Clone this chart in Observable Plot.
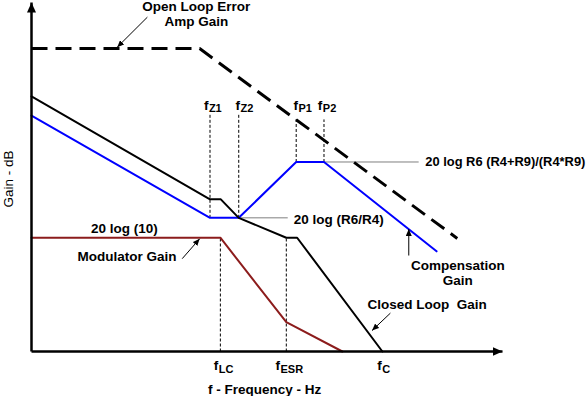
<!DOCTYPE html>
<html>
<head>
<meta charset="utf-8">
<script src="https://cdn.jsdelivr.net/npm/d3@7"></script>
<script src="https://cdn.jsdelivr.net/npm/@observablehq/plot@0.6"></script>
<style>
  html, body { margin: 0; padding: 0; background: #fff; }
  svg text { white-space: pre; }
</style>
</head>
<body>
<div id="chart"></div>
<script>
// ---- Data (x: log-frequency units 0-100, y: gain units 0-100) ----
const openLoopX = [0, 35.7, 90.4];
const openLoopY = [86.8, 86.8, 32.4];

const closedLoopX = [0, 37.9, 40.2, 44.0, 54.1, 56.4, 74.5];
const closedLoopY = [73.1, 43.6, 43.6, 38.3, 32.6, 32.6, 0];

const compX = [0, 37.9, 44.0, 56.2, 62.1, 86.0];
const compY = [67.6, 38.3, 38.3, 54.3, 54.3, 28.7];

const modX = [0, 40.1, 54.1, 66.0];
const modY = [32.6, 32.6, 8.4, 0];

// dashed frequency markers
const markerX  = [37.9, 44.0, 56.2, 62.1, 40.1, 54.1];
const markerY1 = [38.3, 38.3, 54.3, 54.3, 0, 0];
const markerY2 = [67.9, 67.9, 67.0, 66.5, 32.6, 32.6];

// frequency labels f + subscript
const freqSubs   = ["Z1", "Z2", "P1", "P2", "LC", "ESR", "C"];
const freqLabelX = [36.6, 43.3, 55.6, 60.8, 38.7, 51.8, 73.4];
const freqLabelY = [70.5, 70.5, 70.5, 70.5, -4.2, -4.2, -4.2];

// grey leader lines
const leaderX1 = [62.1, 44.0];
const leaderX2 = [82.2, 54.4];
const leaderY  = [54.3, 38.3];

// annotation arrows
const arrowX1 = [24.6, 32.0, 80.1, 76.2];
const arrowY1 = [95.8, 26.6, 27.5, 11.0];
const arrowX2 = [18.2, 35.7, 80.1, 72.3];
const arrowY2 = [87.2, 32.3, 35.1, 6.0];

// annotation texts
const noteText   = ["Open Loop Error", "Amp Gain", "20 log R6 (R4+R9)/(R4*R9)", "20 log (R6/R4)", "20 log (10)", "Modulator Gain", "Compensation", "Gain", "Closed Loop  Gain"];
const noteX      = [35.0, 35.0, 83.6, 55.7, 19.7, 20.3, 90.5, 90.5, 84.0];
const noteY      = [98.9, 94.5, 54.4, 37.9, 35.3, 27.2, 24.6, 20.3, 13.4];
const noteAnchor = ["middle", "middle", "start", "start", "middle", "middle", "middle", "middle", "middle"];
const noteSize   = [13.5, 13.5, 12.9, 13.5, 13.5, 13.5, 13.5, 13.5, 13.5];

// axes
const axisX1 = [0, 0];
const axisY1 = [0, 0];
const axisX2 = [100, 0];
const axisY2 = [0, 100];
const xTitle = "f - Frequency - Hz";
const yTitle = "Gain - dB";

// ---- helpers ----
const pts = (xs, ys) => xs.map((x, i) => ({x, y: ys[i]}));
const FONT = "Liberation Sans, Arial, Helvetica, sans-serif";

function headMarker(len, wid) {
  return (color) => {
    const ns = "http://www.w3.org/2000/svg";
    const m = document.createElementNS(ns, "marker");
    m.setAttribute("viewBox", `0 ${-wid / 2} ${len} ${wid}`);
    m.setAttribute("markerWidth", len);
    m.setAttribute("markerHeight", wid);
    m.setAttribute("markerUnits", "userSpaceOnUse");
    m.setAttribute("refX", len);
    m.setAttribute("refY", 0);
    m.setAttribute("orient", "auto");
    const p = document.createElementNS(ns, "path");
    p.setAttribute("d", `M0,${-wid / 2}L${len},0L0,${wid / 2}Z`);
    p.setAttribute("fill", color);
    p.setAttribute("stroke", "none");
    m.appendChild(p);
    return m;
  };
}

const axes = axisX1.map((x1, i) => ({x1, y1: axisY1[i], x2: axisX2[i], y2: axisY2[i]}));
const markers = markerX.map((x, i) => ({x, y1: markerY1[i], y2: markerY2[i]}));
const freqLabels = freqSubs.map((s, i) => ({s, x: freqLabelX[i], y: freqLabelY[i]}));
const leaders = leaderX1.map((x1, i) => ({x1, x2: leaderX2[i], y: leaderY[i]}));
const arrows = arrowX1.map((x1, i) => ({x1, y1: arrowY1[i], x2: arrowX2[i], y2: arrowY2[i]}));
const notes = noteText.map((t, i) => ({t, x: noteX[i], y: noteY[i], a: noteAnchor[i], s: noteSize[i]}));

const chart = Plot.plot({
  width: 588,
  height: 396,
  marginLeft: 31,
  marginRight: 86,
  marginTop: 2,
  marginBottom: 45,
  x: {domain: [0, 100], axis: null},
  y: {domain: [0, 100], axis: null},
  style: {fontFamily: FONT, background: "white", overflow: "visible"},
  marks: [
    // dashed vertical frequency markers
    Plot.link(markers, {x1: "x", x2: "x", y1: "y1", y2: "y2", stroke: "black", strokeWidth: 1, strokeDasharray: "3,2"}),
    // grey leader lines
    Plot.link(leaders, {x1: "x1", x2: "x2", y1: "y", y2: "y", stroke: "#7f7f7f", strokeWidth: 1}),
    // curves
    Plot.line(pts(openLoopX, openLoopY), {x: "x", y: "y", stroke: "black", strokeWidth: 3, strokeDasharray: "16,8", strokeLinecap: "butt", strokeLinejoin: "miter"}),
    Plot.line(pts(modX, modY), {x: "x", y: "y", stroke: "#8c1c1c", strokeWidth: 2}),
    Plot.line(pts(compX, compY), {x: "x", y: "y", stroke: "#0000ff", strokeWidth: 2}),
    Plot.line(pts(closedLoopX, closedLoopY), {x: "x", y: "y", stroke: "black", strokeWidth: 2}),
    // axes
    Plot.link(axes, {x1: "x1", y1: "y1", x2: "x2", y2: "y2", stroke: "black", strokeWidth: 2.5, markerEnd: headMarker(10, 9)}),
    // annotation arrows
    Plot.link(arrows, {x1: "x1", y1: "y1", x2: "x2", y2: "y2", stroke: "black", strokeWidth: 1, markerEnd: headMarker(7, 6)}),
    // annotation texts
    Plot.text(notes.filter(d => d.a === "middle"), {x: "x", y: "y", text: "t", textAnchor: "middle", fontSize: 13.5, fontWeight: "bold", fill: "black"}),
    Plot.text(notes.filter(d => d.a === "start" && d.s === 13.5), {x: "x", y: "y", text: "t", textAnchor: "start", fontSize: 13.5, fontWeight: "bold", fill: "black"}),
    Plot.text(notes.filter(d => d.a === "start" && d.s !== 13.5), {x: "x", y: "y", text: "t", textAnchor: "start", fontSize: 12.9, fontWeight: "bold", fill: "black"}),
    // frequency labels
    Plot.text(freqLabels, {x: "x", y: "y", text: () => "f", textAnchor: "start", fontSize: 13.5, fontWeight: "bold", fill: "black"}),
    Plot.text(freqLabels, {x: "x", y: "y", text: "s", textAnchor: "start", dx: 5, dy: 3, fontSize: 11, fontWeight: "bold", fill: "black"}),
    // axis titles
    Plot.text([xTitle], {x: () => 49.5, y: () => -10.8, text: d => d, textAnchor: "middle", fontSize: 13.5, fontWeight: "bold", fill: "black"}),
    Plot.text([yTitle], {x: () => -4.8, y: () => 49.4, text: d => d, rotate: -90, textAnchor: "middle", fontSize: 13.5, fill: "black"})
  ]
});

chart.style.whiteSpace = "pre";
document.getElementById("chart").appendChild(chart);
</script>
</body>
</html>
